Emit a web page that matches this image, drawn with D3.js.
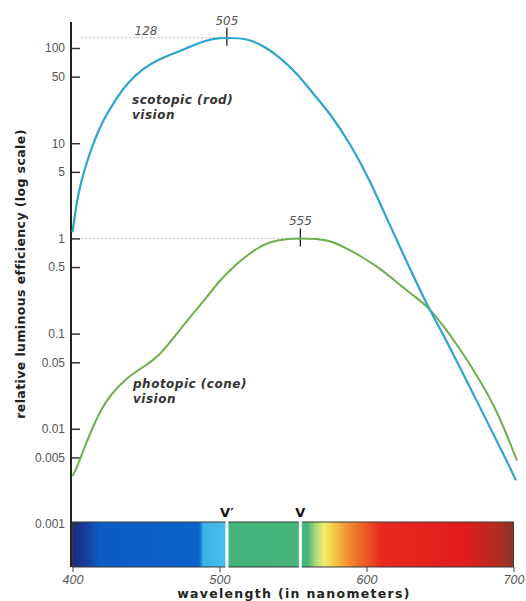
<!DOCTYPE html>
<html>
<head>
<meta charset="utf-8">
<script src="https://cdn.jsdelivr.net/npm/d3@7"></script>
<style>
  body { margin: 0; background: #fff; }
  svg { display: block; font-family: "DejaVu Sans", sans-serif; }
  .axis text { fill: #555; font-size: 12px; }
  .curve-label { fill: #333; font-size: 12px; font-weight: bold; font-style: italic; letter-spacing: 0.5px; }
  .peak-label { fill: #555; font-size: 12px; font-style: italic; }
</style>
</head>
<body>
<svg id="chart" width="526" height="601"></svg>
<script>
/*    ========    DATA    =========    */

// scotopic (rod) curve
var scotopicWavelength = [400, 403.7, 408.5, 414, 420.7, 429, 437, 448, 459.5, 473, 484.7, 495.6, 505, 518.7, 529.6, 541.2, 552.7, 563.6, 575.2, 588.8, 602.4, 614, 627.6, 641.2, 654.8, 677.2, 697.6, 701.7];
var scotopicValue = [1.16, 2.97, 5.57, 9.95, 17.4, 28.2, 42.5, 61.1, 77.8, 92.1, 111.8, 126, 128, 126, 106.5, 79.7, 54.1, 33.3, 20.6, 9.95, 4.07, 1.58, 0.56, 0.198, 0.0828, 0.0168, 0.00393, 0.00287];

// photopic (cone) curve
var photopicWavelength = [400, 403, 406.5, 412, 419, 425.5, 437, 448, 459.5, 471, 482, 493.5, 500, 512, 523, 534, 546, 555, 566, 575.2, 586.7, 597.6, 609.2, 620.7, 631.6, 641.2, 654.8, 665.6, 677.2, 688.8, 702.4];
var photopicValue = [0.0032, 0.0039, 0.0055, 0.009, 0.0156, 0.0224, 0.0347, 0.0442, 0.059, 0.1, 0.163, 0.264, 0.362, 0.546, 0.748, 0.93, 0.99, 1.0, 0.99, 0.953, 0.785, 0.631, 0.484, 0.345, 0.252, 0.198, 0.108, 0.062, 0.0322, 0.0156, 0.00466];

var yTickValues = [100, 50, 10, 5, 1, 0.5, 0.1, 0.05, 0.01, 0.005, 0.001];
var yTickLabels = ["100", "50", "10", "5", "1", "0.5", "0.1", "0.05", "0.01", "0.005", "0.001"];
var xTickValues = [400, 500, 600, 700];

var peakWavelength = [505, 555];
var peakValue = [128, 1];
var peakLabels = ["505", "555"];
var markerLabels = ["V\u2032", "V"];

// colour band under the plot
var spectrumWavelength = [400, 410, 418, 486, 489, 505, 507, 560, 565, 571, 577, 586, 596, 610, 668, 690, 700];
var spectrumColor = ["#1b2a7e", "#17409f", "#0c5cc2", "#0b62c8", "#3cb2e8", "#48bfea", "#43b37c", "#46b67a", "#a6d679", "#f0ec6c", "#f6cf48", "#f29634", "#f06628", "#e82a20", "#e01c1c", "#b02c22", "#8a3428"];

/*    ========    SETTINGS    =========    */

var svg = d3.select("#chart");

var AXIS_X = 71;
var BAR_TOP = 522, BAR_BOTTOM = 567;

var xscale = d3.scaleLinear().domain([400, 700]).range([72.5, 513.5]);
var yscale = d3.scaleLog().domain([0.001, 100]).range([524, 48]);

var defs = svg.append("defs");

/*    ========    FUNCTIONS    =========    */

function zipCurve(ws, vs) {
    return ws.map(function(w, i) { return { w: w, v: vs[i] }; });
}

function drawSpectrum() {
    var grad = defs.append("linearGradient")
        .attr("id", "spectrum")
        .attr("gradientUnits", "userSpaceOnUse")
        .attr("x1", xscale(400)).attr("x2", xscale(700))
        .attr("y1", 0).attr("y2", 0);

    grad.selectAll("stop")
        .data(spectrumWavelength)
        .enter().append("stop")
        .attr("offset", function(d) { return (d - 400) / 300; })
        .attr("stop-color", function(d, i) { return spectrumColor[i]; });

    svg.append("rect")
        .attr("x", xscale(400))
        .attr("y", BAR_TOP)
        .attr("width", xscale(700) - xscale(400))
        .attr("height", BAR_BOTTOM - BAR_TOP)
        .attr("fill", "url(#spectrum)")
        .attr("stroke", "#3a3a3a")
        .attr("stroke-width", 1);

    // white gaps at the two peaks
    svg.selectAll("line.gap")
        .data(peakWavelength)
        .enter().append("line")
        .attr("class", "gap")
        .attr("x1", function(d) { return xscale(d); })
        .attr("x2", function(d) { return xscale(d); })
        .attr("y1", BAR_TOP - 1)
        .attr("y2", BAR_BOTTOM + 1)
        .attr("stroke", "#fff")
        .attr("stroke-width", 3);

    svg.selectAll("text.marker")
        .data(peakWavelength)
        .enter().append("text")
        .attr("class", "marker")
        .attr("x", function(d) { return xscale(d); })
        .attr("y", BAR_TOP - 5)
        .attr("text-anchor", "middle")
        .style("font-size", "13px")
        .style("font-weight", "bold")
        .style("fill", "#111")
        .text(function(d, i) { return markerLabels[i]; });
}

function drawAxes() {
    var yAxis = d3.axisLeft(yscale)
        .tickValues(yTickValues)
        .tickFormat(function(d, i) { return yTickLabels[i]; })
        .tickSizeInner(-8)
        .tickSizeOuter(0)
        .tickPadding(5);

    var gy = svg.append("g")
        .attr("class", "axis")
        .attr("transform", "translate(" + (AXIS_X + 1) + ",0)")
        .call(yAxis);
    gy.select(".domain").remove();
    gy.selectAll(".tick line").attr("stroke", "#333").attr("stroke-width", 1.5);
    gy.selectAll(".tick text").attr("x", -7);

    // the long vertical rule
    svg.append("line")
        .attr("x1", AXIS_X).attr("x2", AXIS_X)
        .attr("y1", 22).attr("y2", BAR_BOTTOM)
        .attr("stroke", "#222")
        .attr("stroke-width", 2);

    // x axis: small ticks under the band, italic labels
    var xAxis = d3.axisBottom(xscale)
        .tickValues(xTickValues)
        .tickFormat(d3.format("d"))
        .tickSizeInner(5)
        .tickSizeOuter(0)
        .tickPadding(3);

    var gx = svg.append("g")
        .attr("class", "axis")
        .attr("transform", "translate(0," + BAR_BOTTOM + ")")
        .call(xAxis);
    gx.select(".domain").remove();
    gx.selectAll(".tick line").attr("stroke", "#444");
    gx.selectAll(".tick text").style("font-style", "italic").style("font-size", "12.5px");

    svg.append("text")
        .attr("x", 294)
        .attr("y", 598)
        .attr("text-anchor", "middle")
        .style("font-size", "12.5px")
        .style("font-weight", "bold")
        .style("letter-spacing", "1.3px")
        .style("fill", "#222")
        .text("wavelength (in nanometers)");

    svg.append("text")
        .attr("transform", "translate(25,274) rotate(-90)")
        .attr("text-anchor", "middle")
        .style("font-size", "12.5px")
        .style("font-weight", "bold")
        .style("letter-spacing", "0.4px")
        .style("fill", "#222")
        .text("relative luminous efficiency (log scale)");
}

function drawPeaks() {
    // dotted guides from the axis to each peak
    svg.selectAll("line.guide")
        .data(peakWavelength)
        .enter().append("line")
        .attr("class", "guide")
        .attr("x1", xscale(406))
        .attr("x2", function(d) { return xscale(d); })
        .attr("y1", function(d, i) { return yscale(peakValue[i]); })
        .attr("y2", function(d, i) { return yscale(peakValue[i]); })
        .attr("stroke", "#b8b8b8")
        .attr("stroke-width", 1)
        .attr("stroke-dasharray", "2,2");

    svg.selectAll("line.peak")
        .data(peakWavelength)
        .enter().append("line")
        .attr("class", "peak")
        .attr("x1", function(d) { return xscale(d); })
        .attr("x2", function(d) { return xscale(d); })
        .attr("y1", function(d, i) { return yscale(peakValue[i]) - 10; })
        .attr("y2", function(d, i) { return yscale(peakValue[i]) + 8; })
        .attr("stroke", "#222")
        .attr("stroke-width", 1.3);

    svg.selectAll("text.peak-label")
        .data(peakWavelength)
        .enter().append("text")
        .attr("class", "peak-label")
        .attr("x", function(d) { return xscale(d); })
        .attr("y", function(d, i) { return yscale(peakValue[i]) - 13; })
        .attr("text-anchor", "middle")
        .text(function(d, i) { return peakLabels[i]; });

    svg.append("text")
        .attr("class", "peak-label")
        .attr("x", xscale(450))
        .attr("y", yscale(peakValue[0]) - 3)
        .attr("text-anchor", "middle")
        .text(String(peakValue[0]));
}

function drawCurves() {
    var line = d3.line()
        .x(function(d) { return xscale(d.w); })
        .y(function(d) { return yscale(d.v); })
        .curve(d3.curveBasis);

    svg.append("path")
        .datum(zipCurve(photopicWavelength, photopicValue))
        .attr("d", line)
        .attr("fill", "none")
        .attr("stroke", "#6fae4c")
        .attr("stroke-width", 2);

    svg.append("path")
        .datum(zipCurve(scotopicWavelength, scotopicValue))
        .attr("d", line)
        .attr("fill", "none")
        .attr("stroke", "#2aa5cb")
        .attr("stroke-width", 2.2);

    var labels = [
        { x: 132, y: 104, lines: ["scotopic (rod)", "vision"] },
        { x: 133, y: 388, lines: ["photopic (cone)", "vision"] }
    ];
    labels.forEach(function(l) {
        var t = svg.append("text").attr("class", "curve-label");
        l.lines.forEach(function(s, i) {
            t.append("tspan").attr("x", l.x).attr("y", l.y + i * 15).text(s);
        });
    });
}

/*    ========    DRAW    =========    */

drawSpectrum();
drawAxes();
drawPeaks();
drawCurves();
</script>
</body>
</html>
